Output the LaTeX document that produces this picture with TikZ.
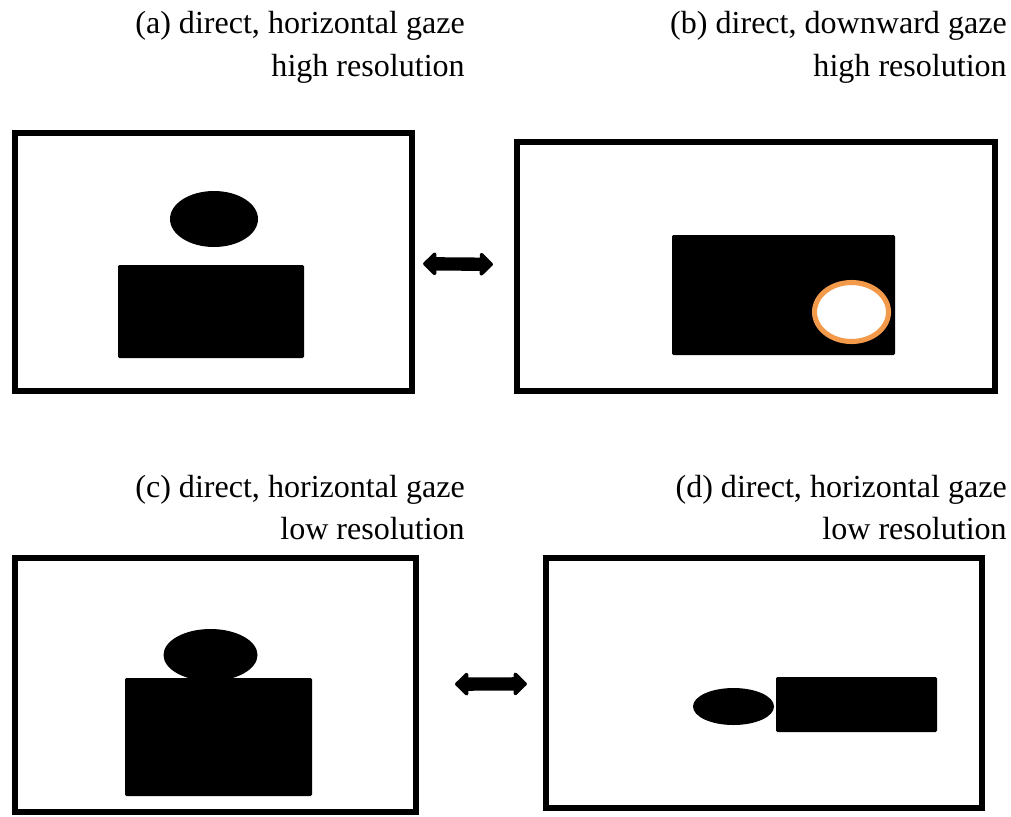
\documentclass[tikz,border=0pt]{standalone}
\usepackage{fontspec}
\setmainfont{Liberation Serif}
\usepackage{tikz}
\usetikzlibrary{arrows.meta, positioning}
\definecolor{ringorange}{RGB}{242,153,74}

\begin{document}
\begin{tikzpicture}[x=0.025cm, y=-0.025cm,
    screen/.style={draw, line width=4.3pt, inner sep=0pt},
    capt/.style={anchor=base east, inner sep=0pt, font=\rmfamily\fontsize{22.8}{27}\selectfont},
    swap/.style={line width=9.5pt, {Triangle[length=10pt,width=19pt,round]}-{Triangle[length=10pt,width=19pt,round]}}]
  \useasboundingbox (0,0) rectangle (1011,816);
  % captions
  \node[capt] (ca1) at (465,33) {(a) direct, horizontal gaze};
  \node[capt] (ca2) at (465,76) {high resolution};
  \node[capt] (cb1) at (1007,33) {(b) direct, downward gaze};
  \node[capt] (cb2) at (1007,76) {high resolution};
  \node[capt] (cc1) at (465,497) {(c) direct, horizontal gaze};
  \node[capt] (cc2) at (465,539) {low resolution};
  \node[capt] (cd1) at (1007,497) {(d) direct, horizontal gaze};
  \node[capt] (cd2) at (1007,539) {low resolution};
  % the four screens
  \node[screen, minimum width=9.925cm, minimum height=6.45cm] (A) at (213.5,262) {};
  \node[screen, minimum width=11.95cm, minimum height=6.225cm] (B) at (756,266.5) {};
  \node[screen, minimum width=10.025cm, minimum height=6.35cm] (C) at (215.5,685) {};
  \node[screen, minimum width=10.9cm, minimum height=6.25cm] (D) at (764,683) {};
  % (a) head above body
  \fill (214,219) ellipse (44 and 28);
  \fill[rounded corners=1pt] (118,265) rectangle (304,358);
  % (b) body only, with bright spot
  \fill[rounded corners=1pt] (672,235) rectangle (895,355);
  \draw[ringorange, line width=3.6pt, fill=white] (851.5,312) ellipse (37 and 29.5);
  % (c) head sunk into body
  \fill (210.5,655) ellipse (47 and 26);
  \fill[rounded corners=1pt] (125,678) rectangle (312,796);
  % (d) head beside body
  \fill (733.5,706.5) ellipse (40.5 and 18.5);
  \fill[rounded corners=1pt] (776,677) rectangle (937,732);
  % swaps between screens
  \draw[swap, shorten <=5.7pt, shorten >=14.9pt] (A) -- (B);
  \draw[swap, shorten <=25.6pt, shorten >=11.4pt] (C) -- (D);
\end{tikzpicture}
\end{document}
